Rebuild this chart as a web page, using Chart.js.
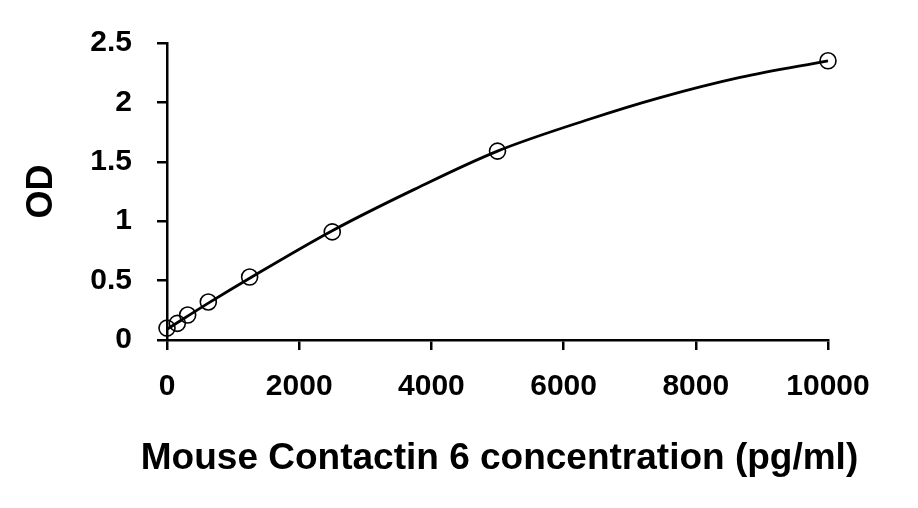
<!DOCTYPE html>
<html>
<head>
<meta charset="utf-8">
<script src="https://cdn.jsdelivr.net/npm/chart.js@4.4.1/dist/chart.umd.min.js"></script>
<style>
html,body{margin:0;padding:0;background:#fff;}
canvas{display:block;}
</style>
</head>
<body>
<canvas id="c" width="918" height="508"></canvas>
<script>
// measured standards
const concentrations = [0, 156.25, 312.5, 625, 1250, 2500, 5000, 10000];
const odValues = [0.10, 0.14, 0.21, 0.32, 0.53, 0.91, 1.59, 2.35];
// fitted curve
const curveX = [0, 625, 1250, 2500, 3750, 5000, 6400, 7460, 8670, 10000];
const curveY = [0.09, 0.31, 0.52, 0.92, 1.27, 1.59, 1.86, 2.04, 2.21, 2.35];
const xTickLabels = ["0", "2000", "4000", "6000", "8000", "10000"];
const yTickLabels = ["0", "0.5", "1", "1.5", "2", "2.5"];
const xTitle = "Mouse Contactin 6 concentration (pg/ml)";
const yTitle = "OD";

const pts = concentrations.map((x, i) => ({x: x, y: odValues[i]}));
const curvePts = curveX.map((x, i) => ({x: x, y: curveY[i]}));
const tickFont = {family: "'Liberation Sans', Arial, sans-serif", weight: 'bold', size: 30};
const titleFont = {family: "'Liberation Sans', Arial, sans-serif", weight: 'bold', size: 36};

const xTitlePlugin = {
  id: 'xTitle',
  afterDraw(chart) {
    const {ctx, chartArea} = chart;
    ctx.save();
    ctx.font = "bold 37px 'Liberation Sans', Arial, sans-serif";
    ctx.fillStyle = '#000';
    ctx.textAlign = 'center';
    ctx.textBaseline = 'middle';
    ctx.fillText(xTitle, (chartArea.left + chartArea.right) / 2 + 2, 459);
    ctx.restore();
  }
};

new Chart(document.getElementById('c'), {
  type: 'scatter',
  data: {
    datasets: [
      {
        type: 'line',
        data: curvePts,
        borderColor: '#000',
        borderWidth: 2.8,
        cubicInterpolationMode: 'monotone',
        pointRadius: 0,
        fill: false,
        clip: false,
        order: 2
      },
      {
        data: pts,
        showLine: false,
        pointRadius: 8,
        pointBorderWidth: 1.6,
        pointBorderColor: '#000',
        pointBackgroundColor: 'rgba(255,255,255,0)',
        clip: false,
        order: 1
      }
    ]
  },
  plugins: [xTitlePlugin],
  options: {
    responsive: false,
    animation: false,
    layout: {padding: {left: 0, top: 36, right: 90, bottom: 0}},
    plugins: {legend: {display: false}, tooltip: {enabled: false}},
    scales: {
      x: {
        type: 'linear',
        min: 0, max: 10000,
        afterFit: s => { s.height = 168; },
        afterBuildTicks: s => { s.ticks = xTickLabels.map(v => ({value: Number(v)})); },
        ticks: {
          color: '#000', font: tickFont, padding: 19, maxRotation: 0,
          callback: (v, i) => xTickLabels[i]
        },
        grid: {drawOnChartArea: false, drawTicks: true, tickLength: 10, color: '#000', lineWidth: 2.5},
        border: {color: '#000', width: 2.5},
        title: {display: false}
      },
      y: {
        min: 0, max: 2.5,
        afterFit: s => { s.width = 167; },
        afterBuildTicks: s => { s.ticks = yTickLabels.map(v => ({value: Number(v)})); },
        ticks: {
          color: '#000', font: tickFont, padding: 25,
          callback: (v, i) => yTickLabels[i]
        },
        grid: {drawOnChartArea: false, drawTicks: true, tickLength: 10, color: '#000', lineWidth: 2.5},
        border: {color: '#000', width: 2.5},
        title: {display: true, text: yTitle, color: '#000', font: titleFont, padding: {top: 20, bottom: 0}}
      }
    }
  }
});
</script>
</body>
</html>
